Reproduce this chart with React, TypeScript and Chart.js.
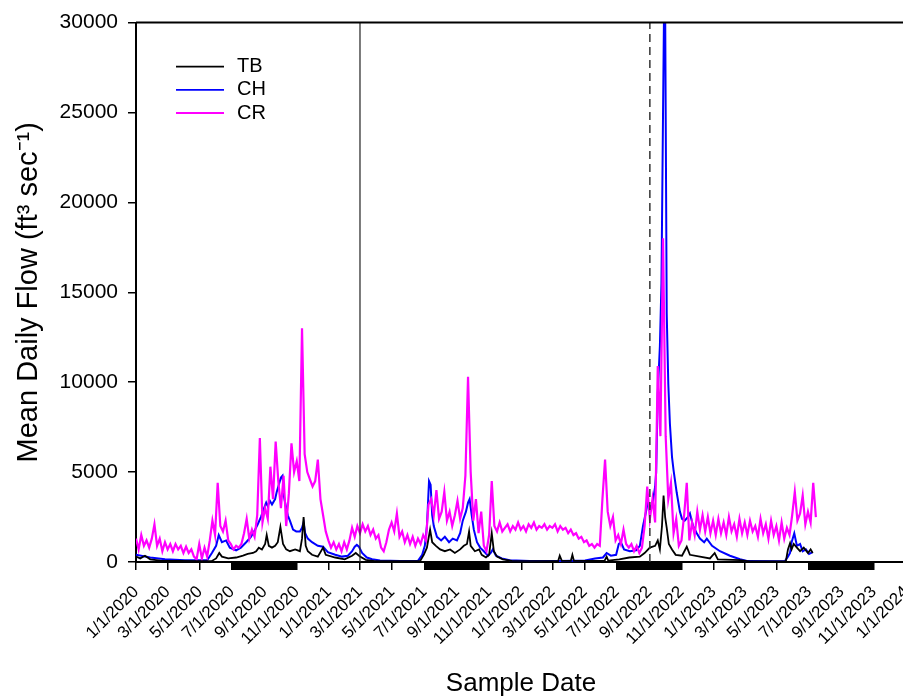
import React, { useEffect, useRef } from 'react';
import { Chart, registerables } from 'chart.js';

Chart.register(...registerables);

// ---- Data (x = days since 1/1/2020) ----
const TICK_DAYS = [0, 60, 121, 182, 244, 305, 366, 425, 486, 547, 609, 670, 731, 790, 851, 912, 974, 1035, 1096, 1155, 1216, 1277, 1339, 1400, 1461];
const TICK_LABELS = ['1/1/2020', '3/1/2020', '5/1/2020', '7/1/2020', '9/1/2020', '11/1/2020', '1/1/2021', '3/1/2021', '5/1/2021', '7/1/2021', '9/1/2021', '11/1/2021', '1/1/2022', '3/1/2022', '5/1/2022', '7/1/2022', '9/1/2022', '11/1/2022', '1/1/2023', '3/1/2023', '5/1/2023', '7/1/2023', '9/1/2023', '11/1/2023', '1/1/2024'];
const Y_TICKS = [0, 5000, 10000, 15000, 20000, 25000, 30000];

// CR sampled every 5 days from 1/1/2020
const CR_STEP_DAYS = 5;
const CR_VALUES = [
  1300, 700, 1500, 900, 1200, 800, 1300, 2100, 900, 1300,
  600, 1100, 700, 1000, 600, 1000, 700, 900, 500, 850,
  500, 700, 300, 150, 1000, 200, 800, 300, 1200, 2300,
  1500, 4400, 2000, 1700, 2300, 1200, 1000, 700, 900, 800,
  1000, 1600, 2400, 1300, 1800, 1400, 2600, 6900, 2200, 3000,
  2400, 5300, 3500, 6700, 4500, 3000, 4800, 2000, 3800, 6600,
  5000, 5600, 4500, 13000, 6000, 5000, 4600, 4200, 4500, 5700,
  3500, 2600, 1700, 1200, 800, 1100, 700, 1000, 600, 1100,
  700, 1200, 1900, 1400, 2000, 1600, 2100, 1700, 2000, 1500,
  1800, 1300, 1500, 800, 600, 1100, 1800, 2200, 1700, 2700,
  1400, 1700, 1100, 1500, 1000, 1400, 900, 1300, 1000, 1500,
  1200, 3200, 3500, 2600, 4000, 2400, 2800, 3900, 2300, 2800,
  2000, 2600, 3400, 2400, 3000, 4800, 10300, 5000, 2300, 3500,
  1600, 2800, 900, 600, 1500, 4500, 2000, 1700, 2200, 1700,
  1900, 2100, 1700, 2000, 1800, 2200, 1800, 2000, 1700, 2100,
  1900, 2200, 1800, 2000, 1900, 2100, 1800, 2000, 1900, 2100,
  1700, 2000, 1800, 1900, 1600, 1800, 1500, 1600, 1300, 1400,
  1100, 1200, 900, 1000, 800, 1000, 900, 3500, 5700, 2800,
  2000, 2500, 1200, 1500, 1000, 1800, 1000, 800, 1000, 600,
  900, 500, 800, 2000, 4200, 2400, 3500, 2200, 10900, 7000,
  18000, 7000, 3500, 4400, 1600, 2400, 900, 1200, 2600, 4400,
  1200, 2200, 1500, 2800, 1800, 2600, 1700, 2500, 1600, 2300,
  1500, 2400, 1600, 2200, 1500, 2500, 1700, 2100, 1400, 2400,
  1600, 2200, 1500, 2300, 1700, 2000, 1400, 2400, 1600, 2100,
  1300, 2300, 1500, 2000, 1200, 2200, 1300, 1900, 1500, 2600,
  3900, 2300, 2700, 3700, 2100, 2800, 2200, 4400, 2500,
];

// CH: [day, flow]
const CH_POINTS: [number, number][] = [
  [0, 400], [27, 250], [55, 150], [93, 100], [135, 100], [144, 500], [152, 900], [157, 1500], [163, 1100], [171, 1200],
  [178, 800], [190, 650], [199, 800], [209, 1100], [218, 1400], [226, 1800], [231, 2100], [237, 2500], [243, 3000], [247, 3300],
  [250, 3100], [254, 3400], [258, 3200], [264, 3500], [267, 3900], [271, 4300], [275, 4700], [278, 4800], [281, 3600], [285, 3000],
  [288, 2600], [292, 2300], [298, 1800], [304, 1700], [311, 1700], [315, 1900], [318, 2200], [321, 1600], [326, 1300], [334, 1100],
  [345, 900], [355, 850], [364, 550], [378, 400], [391, 300], [402, 350], [410, 600], [415, 850], [419, 950], [423, 850],
  [429, 500], [438, 250], [448, 150], [463, 80], [501, 50], [535, 60], [543, 400], [548, 900], [552, 2000], [556, 4500],
  [559, 4300], [562, 2600], [565, 2000], [571, 1400], [579, 1200], [586, 1400], [594, 1100], [601, 1300], [609, 1200], [615, 1600],
  [620, 2300], [626, 2800], [630, 3300], [633, 3500], [637, 2600], [641, 1800], [647, 1100], [653, 800], [660, 600], [668, 350],
  [673, 500], [677, 700], [683, 350], [694, 200], [709, 100], [747, 60], [804, 50], [852, 80], [871, 200], [886, 250],
  [893, 500], [901, 350], [911, 400], [916, 1000], [920, 1100], [926, 700], [937, 600], [949, 650], [956, 900], [962, 2000],
  [967, 2700], [971, 3300], [977, 3000], [981, 3400], [985, 4200], [987, 5000], [990, 9400], [994, 12000], [997, 15500], [1000, 25000],
  [1002, 31000], [1004, 31000], [1007, 13800], [1010, 9900], [1013, 7700], [1017, 5850], [1020, 5100], [1026, 3850], [1032, 2800], [1036, 2400],
  [1041, 2300], [1047, 2500], [1051, 2700], [1057, 2000], [1064, 1600], [1070, 1300], [1078, 1100], [1083, 1300], [1093, 900], [1108, 600],
  [1127, 350], [1146, 150], [1161, 50], [1231, 40], [1237, 300], [1241, 500], [1244, 1100], [1249, 1600], [1254, 900], [1260, 1000],
  [1265, 600], [1271, 700], [1277, 450], [1284, 550],
];

// TB: [day, flow]
const TB_POINTS: [number, number][] = [
  [0, 300], [8, 200], [17, 350], [27, 150], [46, 80], [121, 50], [144, 60], [152, 200], [158, 500], [163, 300],
  [175, 200], [190, 250], [203, 350], [212, 450], [222, 500], [228, 600], [233, 800], [239, 700], [245, 1000], [248, 1500],
  [252, 900], [258, 800], [264, 900], [269, 1100], [274, 1950], [279, 1000], [285, 700], [292, 600], [302, 700], [311, 600],
  [315, 1300], [318, 2500], [322, 900], [326, 600], [334, 400], [345, 300], [355, 800], [360, 400], [378, 250], [396, 150],
  [410, 350], [417, 500], [425, 300], [436, 120], [453, 50], [539, 50], [546, 400], [552, 800], [558, 1800], [562, 1100],
  [569, 900], [577, 700], [586, 600], [596, 700], [605, 500], [615, 700], [622, 900], [628, 1000], [632, 1700], [635, 900],
  [643, 600], [651, 700], [656, 400], [664, 250], [670, 400], [675, 1600], [679, 600], [685, 300], [696, 150], [713, 60],
  [801, 50], [804, 350], [808, 60], [825, 60], [828, 400], [831, 60], [889, 60], [893, 300], [896, 80], [917, 150],
  [936, 250], [956, 300], [965, 500], [975, 800], [985, 900], [990, 1200], [994, 700], [998, 2000], [1001, 3700], [1004, 2500],
  [1007, 1900], [1011, 1000], [1017, 700], [1024, 400], [1036, 350], [1045, 850], [1051, 400], [1070, 300], [1089, 200], [1098, 500],
  [1104, 150], [1146, 100], [1165, 30], [1233, 30], [1237, 700], [1241, 1050], [1244, 700], [1248, 1000], [1254, 800], [1260, 600],
  [1267, 800], [1275, 500], [1280, 700], [1284, 500],
];

// Sampling periods (Jul 1 - Nov 1), drawn as bars just under the x axis
const SAMPLING_PERIODS: [number, number][] = [[182, 305], [547, 670], [912, 1035], [1277, 1400]];
const SAMPLING_BAR_LEVEL = -220;

const SOLID_LINE_DAY = 425;   // 3/1/2021
const DASHED_LINE_DAY = 975;  // early Sep 2022

const X_MIN = 0;
const X_MAX = 1461;
const Y_MIN = 0;
const Y_MAX = 30000;

const LEGEND_NAMES = ['TB', 'CH', 'CR'];
const FONT = '"Liberation Sans", Arial, Helvetica, sans-serif';

const toXY = (pts: [number, number][]) => pts.map(([x, y]) => ({ x, y }));

const legendPlugin = {
  id: 'insideLegend',
  afterDraw(chart: any) {
    const { ctx, chartArea } = chart;
    ctx.save();
    ctx.font = `20px ${FONT}`;
    ctx.textBaseline = 'middle';
    ctx.textAlign = 'left';
    LEGEND_NAMES.forEach((name, i) => {
      const ds = chart.data.datasets.find((d: any) => d.label === name);
      const y = chartArea.top + 44 + i * 23.2;
      ctx.strokeStyle = ds.borderColor;
      ctx.lineWidth = 1.8;
      ctx.beginPath();
      ctx.moveTo(chartArea.left + 40, y);
      ctx.lineTo(chartArea.left + 88, y);
      ctx.stroke();
      ctx.fillStyle = '#000';
      ctx.fillText(name, chartArea.left + 101, y);
    });
    ctx.restore();
  },
};

const framePlugin = {
  id: 'topFrame',
  afterDraw(chart: any) {
    const { ctx, chartArea } = chart;
    ctx.save();
    ctx.strokeStyle = '#000';
    ctx.lineWidth = 2;
    ctx.beginPath();
    ctx.moveTo(chartArea.left, chartArea.top);
    ctx.lineTo(chartArea.right, chartArea.top);
    ctx.stroke();
    ctx.restore();
  },
};

export default function App() {
  const ref = useRef<HTMLCanvasElement>(null);

  useEffect(() => {
    if (!ref.current) return;
    Chart.defaults.font.family = FONT;
    Chart.defaults.color = '#000';

    const lineBase = { pointRadius: 0, borderWidth: 1.8, tension: 0, fill: false, spanGaps: true };

    const datasets: any[] = [
      { ...lineBase, label: 'TB', data: toXY(TB_POINTS), borderColor: '#000000', order: 0 },
      { ...lineBase, label: 'CH', data: toXY(CH_POINTS), borderColor: '#0000ff', borderWidth: 2, order: 2 },
      { ...lineBase, label: 'CR', data: CR_VALUES.map((v, i) => ({ x: i * CR_STEP_DAYS, y: v })), borderColor: '#ff00ff', borderWidth: 2.2, order: 1 },
      {
        ...lineBase, label: 'event', borderColor: '#222222', borderWidth: 1.2, order: -1,
        data: [{ x: SOLID_LINE_DAY, y: Y_MIN }, { x: SOLID_LINE_DAY, y: Y_MAX }],
      },
      {
        ...lineBase, label: 'event2', borderColor: '#333333', borderWidth: 1.5, borderDash: [8, 5], order: -1,
        data: [{ x: DASHED_LINE_DAY, y: Y_MIN }, { x: DASHED_LINE_DAY, y: Y_MAX }],
      },
      ...SAMPLING_PERIODS.map(([a, b], i) => ({
        ...lineBase, label: 'sampling' + i, borderColor: '#000000', borderWidth: 8, borderCapStyle: 'butt', clip: false, order: -2,
        data: [{ x: a, y: SAMPLING_BAR_LEVEL }, { x: b, y: SAMPLING_BAR_LEVEL }],
      })),
    ];

    const chart = new Chart(ref.current, {
      type: 'line',
      data: { datasets },
      plugins: [legendPlugin, framePlugin],
      options: {
        animation: false,
        responsive: false,
        devicePixelRatio: 1,
        events: [],
        layout: { padding: { top: 22, right: 10, bottom: 0, left: 0 } },
        plugins: { legend: { display: false }, tooltip: { enabled: false } },
        scales: {
          x: {
            type: 'linear',
            min: X_MIN,
            max: X_MAX,
            afterBuildTicks: (scale: any) => { scale.ticks = TICK_DAYS.map((v) => ({ value: v })); },
            afterFit: (scale: any) => { scale.height = 137; scale.paddingRight = 0; },
            ticks: {
              autoSkip: false,
              minRotation: 45,
              maxRotation: 45,
              padding: 12,
              color: '#000',
              font: { size: 17, family: FONT },
              callback: (v: any) => { const i = TICK_DAYS.indexOf(Number(v)); return i >= 0 ? TICK_LABELS[i] : ''; },
            },
            grid: { display: true, drawOnChartArea: false, drawTicks: true, tickLength: 8, color: '#000', lineWidth: 1.5 },
            border: { display: true, color: '#000', width: 2 },
            title: { display: true, text: 'Sample Date', color: '#000', font: { size: 26, family: FONT }, padding: { top: 0, bottom: 0 } },
          },
          y: {
            type: 'linear',
            min: Y_MIN,
            max: Y_MAX,
            afterBuildTicks: (scale: any) => { scale.ticks = Y_TICKS.map((v) => ({ value: v })); },
            afterFit: (scale: any) => { scale.width = 136; },
            ticks: {
              padding: 10,
              color: '#000',
              font: { size: 21, family: FONT },
              callback: (v: any) => String(v),
            },
            grid: { display: true, drawOnChartArea: false, drawTicks: true, tickLength: 8, color: '#000', lineWidth: 1.5 },
            border: { display: true, color: '#000', width: 2 },
            title: { display: true, text: 'Mean Daily Flow (ft³ sec⁻¹)', color: '#000', font: { size: 29, family: FONT }, padding: { top: 12, bottom: 0 } },
          },
        },
      } as any,
    });
    return () => chart.destroy();
  }, []);

  return (
    <div style={{ position: 'fixed', left: 0, top: 0, width: 903, height: 699, overflow: 'hidden', background: '#fff' }}>
      <canvas ref={ref} width={916} height={699} style={{ display: 'block', width: 916, height: 699 }} />
    </div>
  );
}
